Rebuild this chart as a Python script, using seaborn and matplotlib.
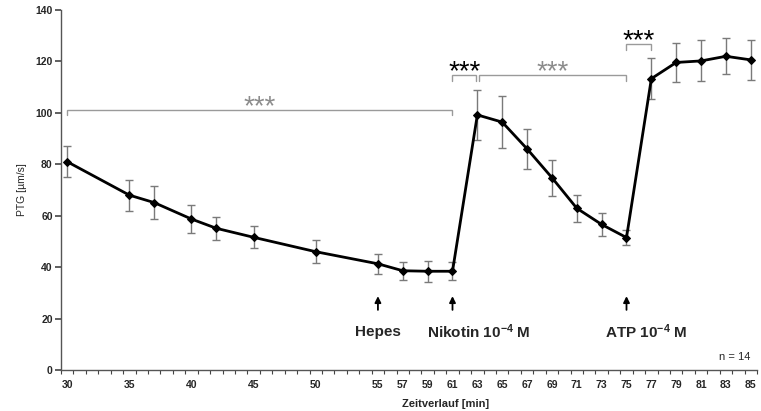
import matplotlib
matplotlib.use('Agg')
import matplotlib.pyplot as plt
import seaborn as sns
import pandas as pd

# ---- data ----
minutes = [30, 35, 37, 40, 42, 45, 50, 55, 57, 59, 61, 63, 65, 67, 69, 71, 73, 75, 77, 79, 81, 83, 85]
ptg = [81.0, 68.0, 65.1, 58.7, 55.1, 51.6, 46.0, 41.3, 38.6, 38.4, 38.4, 99.2, 96.4, 86.0, 74.8,
       62.9, 56.6, 51.5, 113.3, 119.6, 120.2, 122.0, 120.6]
sd = [6.0, 6.0, 6.5, 5.3, 4.4, 4.3, 4.5, 4.0, 3.5, 4.0, 3.5, 9.8, 10.0, 7.8, 7.0,
      5.3, 4.4, 3.0, 8.0, 7.5, 8.0, 7.0, 7.7]
xtick_labels = [30, 35, 40, 45, 50, 55, 57, 59, 61, 63, 65, 67, 69, 71, 73, 75, 77, 79, 81, 83, 85]
ytick_values = [0, 20, 40, 60, 80, 100, 120, 140]

# significance brackets: start, end, height, star colour
brk_start = [30, 61, 63.15, 75]
brk_end = [61, 62.9, 75, 77]
brk_y = [101.2, 114.7, 114.7, 126.6]
brk_star_color = ['#8c8c8c', 'black', '#8c8c8c', 'black']

# treatment markers
treat_x = [55, 61, 75]
treat_label_x = [55, 63.1, 76.6]
treat_labels = ['Hepes', 'Nikotin 10$^{-4}$ M', 'ATP 10$^{-4}$ M']

df = pd.DataFrame({'min': minutes, 'ptg': ptg, 'sd': sd})

sns.set_style('ticks')
plt.rcParams['font.family'] = ['Liberation Sans', 'DejaVu Sans']
plt.rcParams['mathtext.fontset'] = 'custom'
plt.rcParams['mathtext.rm'] = 'Liberation Sans:bold'
plt.rcParams['mathtext.bf'] = 'Liberation Sans:bold'
plt.rcParams['mathtext.default'] = 'bf'

fig = plt.figure(figsize=(7.61, 4.11), dpi=100)
ax = fig.add_axes([61 / 761, 41 / 411, 696 / 761, 360 / 411])

ax.errorbar(df['min'], df['ptg'], yerr=df['sd'], fmt='none', ecolor='#7a7a7a',
            elinewidth=1.0, capsize=3, capthick=1.0, zorder=2)
sns.lineplot(data=df, x='min', y='ptg', ax=ax, color='black', linewidth=2.0,
             marker='D', markersize=3.8, markeredgecolor='black', zorder=3)

ax.set_xlim(29.5, 85.5)
ax.set_ylim(0, 140)
ax.set_xticks(xtick_labels)
ax.set_xticklabels([str(v) for v in xtick_labels], fontweight='bold', fontsize=7.5)
ax.set_xticks([v + 0.5 for v in range(29, 86)], minor=True)
ax.tick_params(axis='x', which='major', length=0, pad=7)
ax.tick_params(axis='x', which='minor', length=3, width=0.8, direction='out', color='#444444')
ax.set_yticks(ytick_values)
ax.set_yticklabels([str(v) for v in ytick_values], fontweight='bold', fontsize=7.5)
ax.tick_params(axis='y', length=4, width=1.2, direction='out', pad=2, color='#444444')

for s in ['top', 'right']:
    ax.spines[s].set_visible(False)
for s in ['left', 'bottom']:
    ax.spines[s].set_color('#555555')
    ax.spines[s].set_linewidth(1.0)

ax.set_xlabel('Zeitverlauf [min]', fontweight='bold', fontsize=8)
ax.xaxis.set_label_coords(0.552, -0.08)
ax.set_ylabel('PTG [µm/s]', fontsize=7.5)
ax.yaxis.set_label_coords(-0.049, 0.5)

# brackets
for x1, x2, y, c in zip(brk_start, brk_end, brk_y, brk_star_color):
    ax.plot([x1, x1, x2, x2], [y - 2.2, y, y, y - 2.2], color='#9a9a9a', lw=1.0,
            solid_joinstyle='miter', zorder=1)
    ax.text((x1 + x2) / 2, y - 1.6, '***', ha='center', va='baseline', color=c,
            fontsize=20, family='Liberation Sans')

# arrows and labels
for xa in treat_x:
    ax.annotate('', xy=(xa, 29.8), xytext=(xa, 22.3),
                arrowprops=dict(arrowstyle='-|>', color='black', lw=1.3, mutation_scale=9))
for xl, lab in zip(treat_label_x, treat_labels):
    ax.text(xl, 14.8, lab, ha='center', va='center', fontsize=11, fontweight='bold')

ax.text(85, 5, 'n = 14', ha='right', va='center', fontsize=8)

fig.savefig('out.png', dpi=100)
